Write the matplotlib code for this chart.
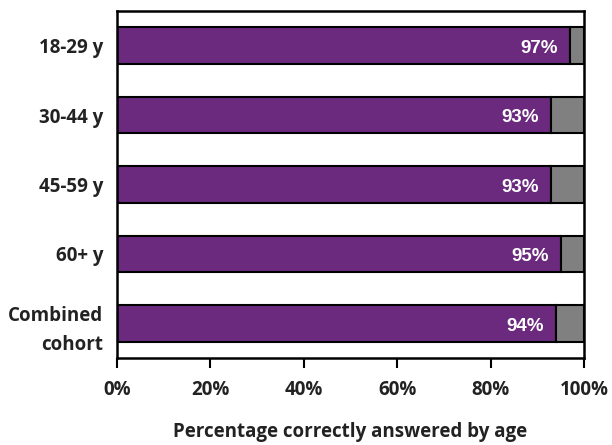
import matplotlib
matplotlib.use("Agg")
import matplotlib.pyplot as plt
from matplotlib.ticker import FuncFormatter

categories = ["18-29 y", "30-44 y", "45-59 y", "60+ y", "Combined\ncohort"]
correct = [97, 93, 93, 95, 94]
incorrect = [100 - v for v in correct]
xticks = [0, 20, 40, 60, 80, 100]

plt.rcParams['font.family'] = ['Open Sans', 'DejaVu Sans']

fig = plt.figure(figsize=(6.12, 4.45), dpi=100)
ax = fig.add_axes([117/612, 1 - 358/445, (584 - 117)/612, (358 - 11)/445])

y = list(range(len(categories)))
ax.barh(y, correct, height=0.53, color="#6B2A7E", edgecolor="black", linewidth=1.5)
ax.barh(y, incorrect, left=correct, height=0.53, color="#808080", edgecolor="black", linewidth=1.5)

for yi, v in zip(y, correct):
    ax.text(v - 2.6, yi + 0.04, f"{v}%", ha="right", va="center", color="white",
            fontsize=13.5, fontweight="bold", family="Liberation Sans")

ax.set_ylim(len(categories) - 0.5, -0.5)
ax.set_xlim(0, 100)
ax.set_yticks(y)
ax.set_yticklabels(categories, fontsize=13.5, fontweight="bold", linespacing=1.6,
                   color="#222222")
ax.set_xticks(xticks)
ax.xaxis.set_major_formatter(FuncFormatter(lambda v, p: f"{int(v)}%"))
for lbl in ax.get_xticklabels():
    lbl.set_fontweight("bold")
    lbl.set_fontsize(13.5)
    lbl.set_color("#222222")
ax.tick_params(axis="y", length=0, pad=10)
ax.tick_params(axis="x", length=7, width=1.5, direction="out", pad=9)
for s in ax.spines.values():
    s.set_linewidth(1.8)
fig.text((117 + 584) / 2 / 612, 1 - 432 / 445, "Percentage correctly answered by age",
         ha="center", va="center", fontsize=13.5, fontweight="bold", color="#222222")

fig.savefig("out.png", dpi=100)
